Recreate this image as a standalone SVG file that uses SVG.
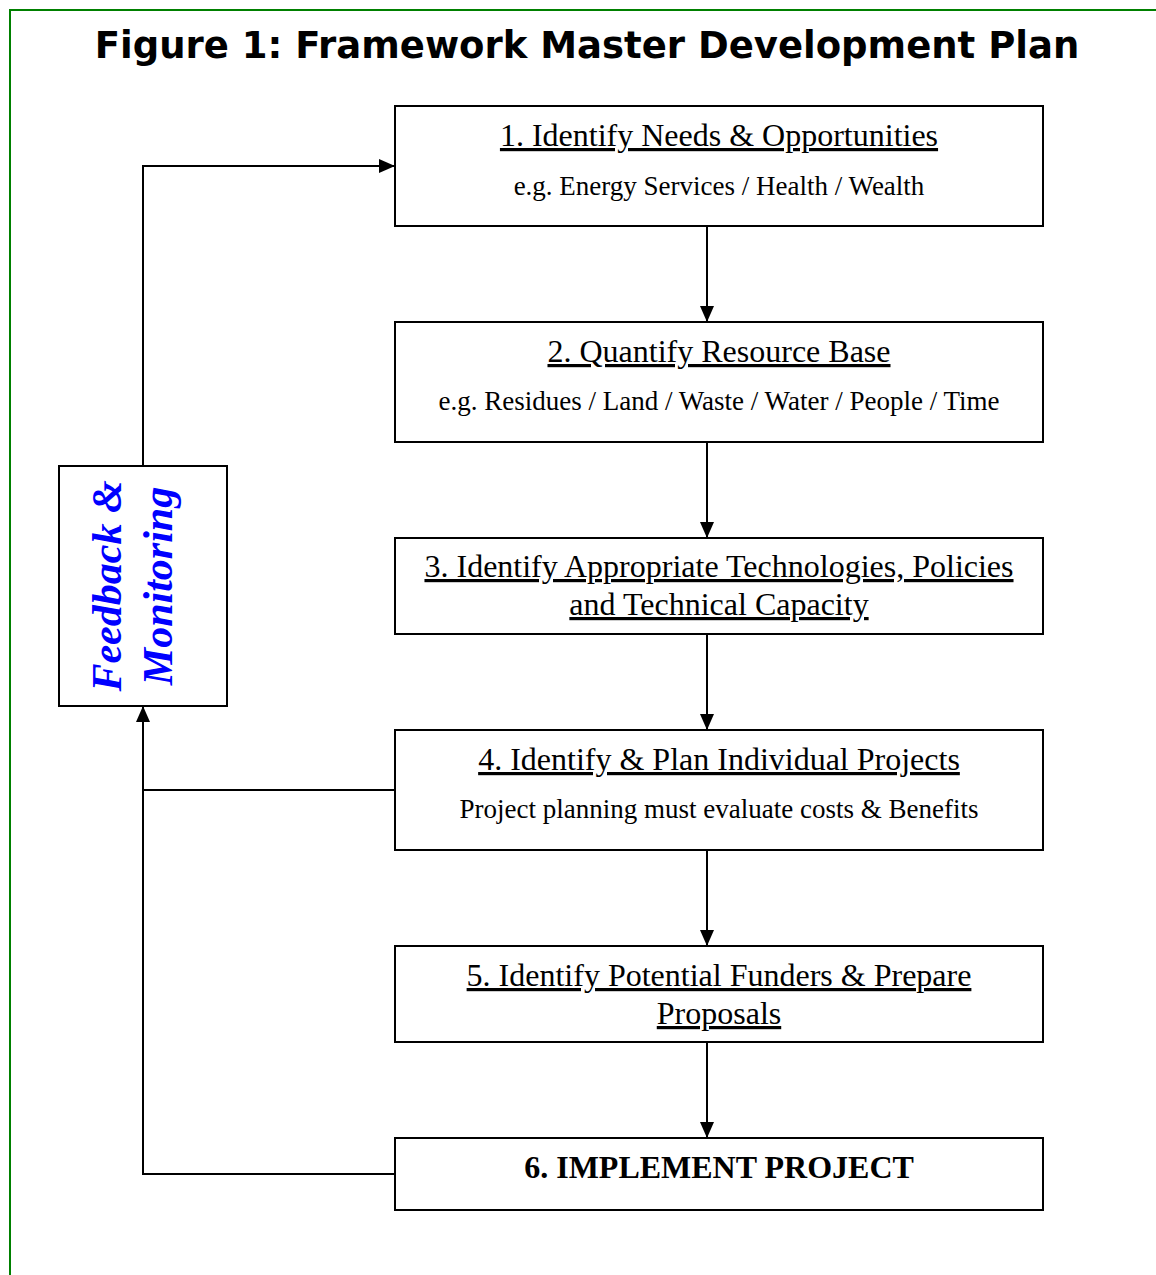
<svg xmlns="http://www.w3.org/2000/svg" width="1156" height="1275" viewBox="0 0 1156 1275">
<defs>
<style>
.box{fill:#fff;stroke:#000;stroke-width:2}
.h{font-family:"Liberation Serif","Times New Roman",serif;font-size:32px;fill:#000;text-anchor:middle;text-decoration:underline}
.s{font-family:"Liberation Serif","Times New Roman",serif;font-size:27px;fill:#000;text-anchor:middle}
.b{font-family:"Liberation Serif","Times New Roman",serif;font-size:32px;font-weight:bold;fill:#000;text-anchor:middle}
.fb{font-family:"Liberation Serif","Times New Roman",serif;font-size:42px;font-weight:bold;font-style:italic;fill:#0000ff;text-anchor:middle}
.c{fill:none;stroke:#000;stroke-width:2}
</style>
<marker id="ah" markerUnits="userSpaceOnUse" markerWidth="16" markerHeight="16" viewBox="0 0 16 16" refX="16" refY="8" orient="auto">
<path d="M0,1 L16,8 L0,15 Z" fill="#000"/>
</marker>
</defs>
<rect width="1156" height="1275" fill="#fff"/>
<path d="M10,1275 V10 H1156" fill="none" stroke="#008000" stroke-width="2"/>
<text x="587" y="58" font-family="DejaVu Sans,Verdana,sans-serif" font-weight="bold" font-size="37" text-anchor="middle" fill="#000">Figure 1: Framework Master Development Plan</text>

<g id="connectors">
<line class="c" x1="707" y1="226" x2="707" y2="322" marker-end="url(#ah)"/>
<line class="c" x1="707" y1="442" x2="707" y2="538" marker-end="url(#ah)"/>
<line class="c" x1="707" y1="634" x2="707" y2="730" marker-end="url(#ah)"/>
<line class="c" x1="707" y1="850" x2="707" y2="946" marker-end="url(#ah)"/>
<line class="c" x1="707" y1="1042" x2="707" y2="1138" marker-end="url(#ah)"/>
<polyline class="c" points="143,466 143,166 395,166" marker-end="url(#ah)"/>
<polyline class="c" points="395,790 143,790 143,706" marker-end="url(#ah)"/>
<polyline class="c" points="395,1174 143,1174 143,790"/>
</g>

<g id="n1">
<rect class="box" x="395" y="106" width="648" height="120"/>
<text class="h" x="719" y="146">1. Identify Needs &amp; Opportunities</text>
<text class="s" x="719" y="195">e.g. Energy Services / Health / Wealth</text>
</g>
<g id="n2">
<rect class="box" x="395" y="322" width="648" height="120"/>
<text class="h" x="719" y="362">2. Quantify Resource Base</text>
<text class="s" x="719" y="410">e.g. Residues / Land / Waste / Water / People / Time</text>
</g>
<g id="n3">
<rect class="box" x="395" y="538" width="648" height="96"/>
<text class="h" x="719" y="577">3. Identify Appropriate Technologies, Policies</text>
<text class="h" x="719" y="615">and Technical Capacity</text>
</g>
<g id="n4">
<rect class="box" x="395" y="730" width="648" height="120"/>
<text class="h" x="719" y="770">4. Identify &amp; Plan Individual Projects</text>
<text class="s" x="719" y="818">Project planning must evaluate costs &amp; Benefits</text>
</g>
<g id="n5">
<rect class="box" x="395" y="946" width="648" height="96"/>
<text class="h" x="719" y="986">5. Identify Potential Funders &amp; Prepare</text>
<text class="h" x="719" y="1024">Proposals</text>
</g>
<g id="n6">
<rect class="box" x="395" y="1138" width="648" height="72"/>
<text class="b" x="719" y="1178">6. IMPLEMENT PROJECT</text>
</g>
<g id="feedback">
<rect class="box" x="59" y="466" width="168" height="240"/>
<text class="fb" transform="translate(121,586) rotate(-90)">Feedback &amp;</text>
<text class="fb" transform="translate(172,586) rotate(-90)">Monitoring</text>
</g>
</svg>
